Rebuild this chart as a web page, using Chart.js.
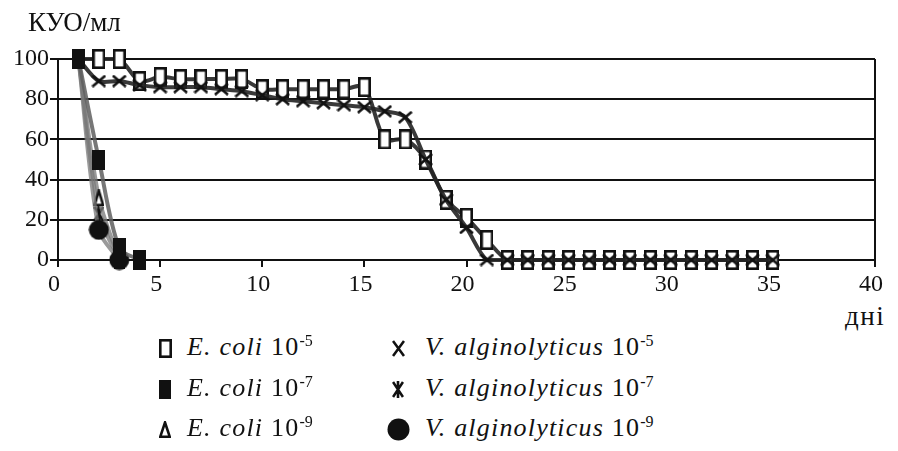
<!DOCTYPE html>
<html>
<head>
<meta charset="utf-8">
<script src="https://cdn.jsdelivr.net/npm/chart.js@4.4.1/dist/chart.umd.min.js"></script>
<style>
  body { margin: 0; background: #fff; color: #111; }
  #wrap { position: relative; width: 898px; height: 451px; overflow: hidden; font-family: 'Liberation Serif', serif; }
  #box { position: absolute; left: 0; top: 0; width: 898px; height: 300px; }
  .lbl { position: absolute; font-family: 'Liberation Serif', serif; font-size: 27px; line-height: 28px; white-space: nowrap; }
  .leg { position: absolute; font-family: 'Liberation Serif', serif; font-size: 26px; line-height: 28px; letter-spacing: 1.2px; white-space: nowrap; }
  .leg i { font-style: italic; }
  .leg sup { font-size: 16px; vertical-align: 0; position: relative; top: -9px; letter-spacing: 0; }
  .mk { position: absolute; }
</style>
</head>
<body>
<div id="wrap">
  <div id="box"><canvas id="myChart"></canvas></div>
  <div class="lbl" style="left:28px;top:8px;">КУО/мл</div>
  <div class="lbl" style="left:845px;top:302px;letter-spacing:1.5px;">дні</div>
  <div id="legend"></div>
</div>
<script>
'use strict';

//***************** Data *****************
let daysLong = [1, 2, 3, 4, 5, 6, 7, 8, 9, 10, 11, 12, 13, 14, 15, 16, 17, 18,
  19, 20, 21, 22, 23, 24, 25, 26, 27, 28, 29, 30, 31, 32, 33, 34, 35];
let ecoli5 = [100, 100, 100, 89, 91, 90, 90, 90, 90, 85, 85, 85, 85, 85, 86, 60, 60, 50,
  30, 21, 10, 0, 0, 0, 0, 0, 0, 0, 0, 0, 0, 0, 0, 0, 0];
let valg5 = [100, 89, 89, 87, 86, 86, 86, 85, 84, 82, 80, 79, 78, 77, 76, 74, 71, 50,
  30, 16, 0, 0, 0, 0, 0, 0, 0, 0, 0, 0, 0, 0, 0, 0, 0];

let daysE7 = [1, 2, 3, 4];
let ecoli7 = [100, 50, 6, 0];

let daysShort = [1, 2, 3];
let ecoli9 = [100, 31, 0];
let valg7 = [100, 23, 0];
let valg9 = [100, 15, 0];

let xTicks = [0, 5, 10, 15, 20, 25, 30, 35, 40];
let yTicks = [0, 20, 40, 60, 80, 100];

let legendNames = ['E. coli', 'V. alginolyticus'];

let serifFont = "'Liberation Serif', serif";
Chart.defaults.font.family = serifFont;

// marker sizes [w, h] in the plot and in the legend
let plotSize = { rectOpen: [13, 20], rectFull: [13, 20], cross: [15, 13], zhe: [11, 16], tri: [11, 17], circle: [21, 21] };
let legendSize = { rectOpen: [13, 19], rectFull: [12, 19], cross: [13, 17], zhe: [12, 17], tri: [12, 17], circle: [23, 23] };

//***************** Marker drawing *****************
// every call gives a new little canvas, so the same shape can be used in chart and legend
function makeMarker(type, size) {
  let c = document.createElement('canvas');
  c.width = size[0];
  c.height = size[1];
  let g = c.getContext('2d');
  g.strokeStyle = '#111';
  g.fillStyle = '#111';
  if (type === 'rectFull') {
    g.fillRect(0, 0, c.width, c.height);
  } else if (type === 'rectOpen') {
    g.fillStyle = '#fff';
    g.fillRect(0, 0, c.width, c.height);
    g.lineWidth = 2.6;
    g.strokeRect(1.3, 1.3, c.width - 2.6, c.height - 2.6);
  } else if (type === 'cross' || type === 'zhe') {
    g.lineWidth = 2.6;
    g.beginPath();
    g.moveTo(1, 1); g.lineTo(c.width - 1, c.height - 1);
    g.moveTo(c.width - 1, 1); g.lineTo(1, c.height - 1);
    if (type === 'zhe') {
      g.moveTo(c.width / 2, 0); g.lineTo(c.width / 2, c.height);
    }
    g.stroke();
  } else if (type === 'tri') {
    g.fillStyle = '#fff';
    g.lineWidth = 2.6;
    g.beginPath();
    g.moveTo(c.width / 2, 1.5);
    g.lineTo(c.width - 1.3, c.height - 1.3);
    g.lineTo(1.3, c.height - 1.3);
    g.closePath();
    g.fill(); g.stroke();
  } else {
    g.beginPath();
    g.arc(c.width / 2, c.height / 2, c.width / 2 - 0.5, 0, Math.PI * 2);
    g.fill();
  }
  return c;
}

function toPoints(xs, ys) {
  let pts = [];
  for (let i = 0; i < xs.length; i++) {
    pts.push({ x: xs[i], y: ys[i] });
  }
  return pts;
}

//***************** Chart *****************
let ctx = document.getElementById('myChart');

// hideFirst: the first point sits under the black square at day 1, so skip drawing its marker
function series(label, xs, ys, marker, lineColor, order, hideFirst) {
  let img = makeMarker(marker, plotSize[marker]);
  return {
    label: label,
    data: toPoints(xs, ys),
    pointStyle: c => (hideFirst && c.dataIndex === 0 ? false : img),
    borderColor: lineColor,
    borderWidth: 4,
    tension: 0.3,
    fill: false,
    clip: false,
    order: order
  };
}

let myChartObj = {
  type: 'line',
  data: {
    datasets: [
      series('E. coli 10-7', daysE7, ecoli7, 'rectFull', 'rgba(95,95,95,0.85)', 0, false),
      series('V. alginolyticus 10-5', daysLong, valg5, 'cross', 'rgba(35,35,35,0.9)', 1, true),
      series('E. coli 10-5', daysLong, ecoli5, 'rectOpen', 'rgba(35,35,35,0.9)', 2, true),
      series('V. alginolyticus 10-9', daysShort, valg9, 'circle', 'rgba(120,120,120,0.75)', 3, true),
      series('E. coli 10-9', daysShort, ecoli9, 'tri', 'rgba(120,120,120,0.75)', 4, true),
      series('V. alginolyticus 10-7', daysShort, valg7, 'zhe', 'rgba(120,120,120,0.75)', 5, true)
    ]
  },
  options: {
    responsive: true,
    maintainAspectRatio: false,
    animation: false,
    layout: { padding: { top: 59, right: 23, left: 0, bottom: 0 } },
    plugins: { legend: { display: false }, tooltip: { enabled: false } },
    scales: {
      x: {
        type: 'linear',
        min: 0,
        max: 40,
        afterFit: function (s) { s.height = 40; },
        afterBuildTicks: function (s) { s.ticks = xTicks.map(v => ({ value: v })); },
        grid: {
          color: c => (c.tick && c.tick.value === 40 ? '#111' : 'rgba(0,0,0,0)'),
          lineWidth: 2,
          tickColor: '#111',
          tickLength: 7
        },
        border: { display: true, color: '#111', width: 2 },
        ticks: {
          padding: 3,
          labelOffset: -4,
          color: '#111',
          font: { family: serifFont, size: 24 }
        }
      },
      y: {
        min: 0,
        max: 100,
        afterFit: function (s) { s.width = 58; },
        afterBuildTicks: function (s) { s.ticks = yTicks.map(v => ({ value: v })); },
        grid: { color: '#111', lineWidth: 2, tickColor: '#111', tickLength: 8 },
        border: { display: true, color: '#111', width: 2 },
        ticks: {
          padding: 1,
          color: '#111',
          font: { family: serifFont, size: 24 }
        }
      }
    }
  }
};

new Chart(ctx, myChartObj);

//***************** Legend (HTML) *****************
let legendBox = document.getElementById('legend');
let legendRows = [
  { marker: 'rectOpen', name: 0, pow: '-5', col: 0, row: 0 },
  { marker: 'rectFull', name: 0, pow: '-7', col: 0, row: 1 },
  { marker: 'tri', name: 0, pow: '-9', col: 0, row: 2 },
  { marker: 'cross', name: 1, pow: '-5', col: 1, row: 0 },
  { marker: 'zhe', name: 1, pow: '-7', col: 1, row: 1 },
  { marker: 'circle', name: 1, pow: '-9', col: 1, row: 2 }
];
let rowY = [347, 388, 428];
let markX = [165, 398];
let textX = [187, 425];

for (let i = 0; i < legendRows.length; i++) {
  let r = legendRows[i];
  let m = makeMarker(r.marker, legendSize[r.marker]);
  m.className = 'mk';
  m.style.left = (markX[r.col] - m.width / 2) + 'px';
  m.style.top = (rowY[r.row] - m.height / 2 + 1) + 'px';
  legendBox.appendChild(m);

  let t = document.createElement('div');
  t.className = 'leg';
  t.style.left = textX[r.col] + 'px';
  t.style.top = (rowY[r.row] - 14) + 'px';
  t.innerHTML = '<i>' + legendNames[r.name] + '</i> 10<sup>' + r.pow + '</sup>';
  legendBox.appendChild(t);
}
</script>
</body>
</html>
